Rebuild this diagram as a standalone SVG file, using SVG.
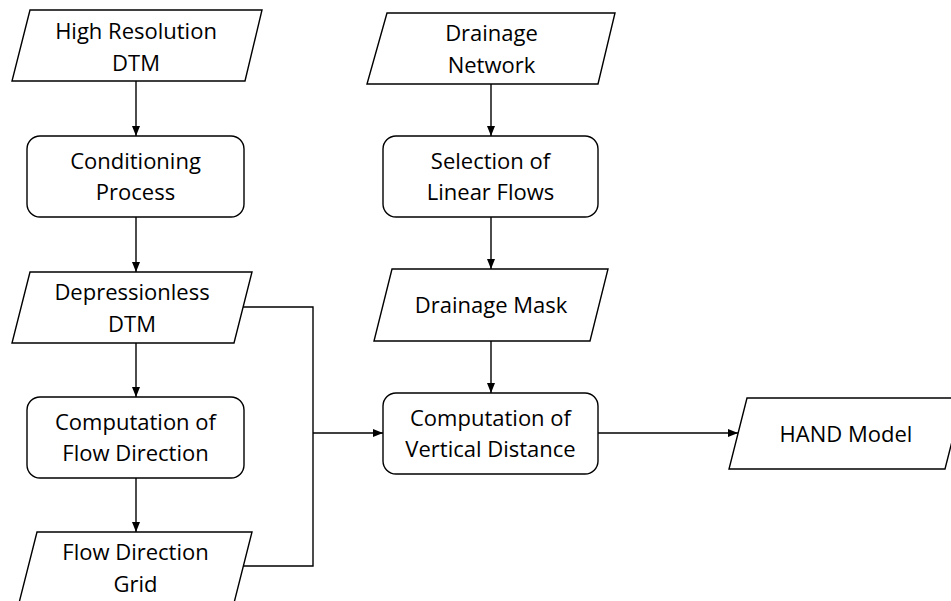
<svg xmlns="http://www.w3.org/2000/svg" width="951" height="601" viewBox="0 0 951 601">
<defs>
<style>
.shape{fill:#fff;stroke:#000;stroke-width:1.4}
.lbl{font-family:"Open Sans","Noto Sans","Liberation Sans",sans-serif;font-size:22px;fill:#000;text-anchor:middle}
.conn{fill:none;stroke:#000;stroke-width:1.4}
</style>
<marker id="arr" viewBox="0 0 10 10" refX="10" refY="5" markerWidth="10" markerHeight="10" markerUnits="userSpaceOnUse" orient="auto">
<path d="M0,1 L10,5 L0,9 Z" fill="#000"/>
</marker>
</defs>
<rect width="951" height="601" fill="#fff"/>
<g id="connectors">
<line class="conn" x1="136" y1="81" x2="136" y2="136" marker-end="url(#arr)"/>
<line class="conn" x1="136" y1="217" x2="136" y2="272" marker-end="url(#arr)"/>
<line class="conn" x1="136" y1="343" x2="136" y2="397" marker-end="url(#arr)"/>
<line class="conn" x1="136" y1="478" x2="136" y2="532" marker-end="url(#arr)"/>
<line class="conn" x1="491" y1="84" x2="491" y2="136" marker-end="url(#arr)"/>
<line class="conn" x1="491" y1="217" x2="491" y2="269" marker-end="url(#arr)"/>
<line class="conn" x1="491" y1="341" x2="491" y2="393" marker-end="url(#arr)"/>
<polyline class="conn" points="243,307 313,307 313,566 243,566"/>
<line class="conn" x1="313" y1="433" x2="383" y2="433" marker-end="url(#arr)"/>
<line class="conn" x1="598" y1="433" x2="738" y2="433" marker-end="url(#arr)"/>
</g>
<g id="high-resolution-dtm">
<polygon class="shape" points="30,10 262,10 245,81 12,81"/>
<text class="lbl" x="136" y="38.5">High Resolution</text>
<text class="lbl" x="136" y="70.5">DTM</text>
</g>
<g id="conditioning-process">
<rect class="shape" x="27" y="136" width="217" height="81" rx="13"/>
<text class="lbl" x="135.5" y="169">Conditioning</text>
<text class="lbl" x="135.5" y="200">Process</text>
</g>
<g id="depressionless-dtm">
<polygon class="shape" points="30,272 252,272 234,343 12,343"/>
<text class="lbl" x="132" y="300">Depressionless</text>
<text class="lbl" x="132" y="332">DTM</text>
</g>
<g id="flow-direction-computation">
<rect class="shape" x="27" y="397" width="217" height="81" rx="13"/>
<text class="lbl" x="135.5" y="430">Computation of</text>
<text class="lbl" x="135.5" y="461">Flow Direction</text>
</g>
<g id="flow-direction-grid">
<polygon class="shape" points="37,532 252,532 234,603 19,603"/>
<text class="lbl" x="135.5" y="560">Flow Direction</text>
<text class="lbl" x="135.5" y="592">Grid</text>
</g>
<g id="drainage-network">
<polygon class="shape" points="387,13 615,13 598,84 367,84"/>
<text class="lbl" x="491.5" y="41">Drainage</text>
<text class="lbl" x="491.5" y="73">Network</text>
</g>
<g id="selection-linear-flows">
<rect class="shape" x="383" y="136" width="215" height="81" rx="13"/>
<text class="lbl" x="490.5" y="169">Selection of</text>
<text class="lbl" x="490.5" y="200">Linear Flows</text>
</g>
<g id="drainage-mask">
<polygon class="shape" points="392,269 608,269 590,341 374,341"/>
<text class="lbl" x="491" y="313">Drainage Mask</text>
</g>
<g id="vertical-distance-computation">
<rect class="shape" x="383" y="393" width="215" height="81" rx="13"/>
<text class="lbl" x="490.5" y="426">Computation of</text>
<text class="lbl" x="490.5" y="457">Vertical Distance</text>
</g>
<g id="hand-model">
<polygon class="shape" points="747,398 963,398 945,469 729,469"/>
<text class="lbl" x="846" y="442">HAND Model</text>
</g>
</svg>
